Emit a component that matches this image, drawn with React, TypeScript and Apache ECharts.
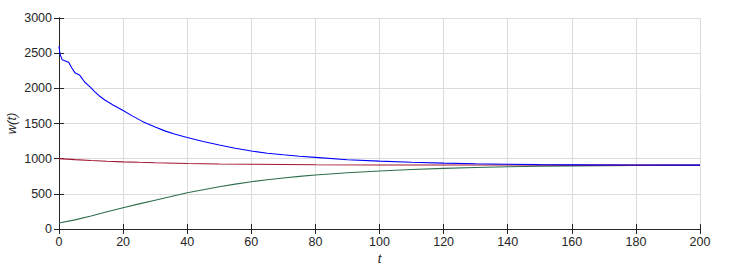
import React, { useEffect, useRef } from "react";
import * as echarts from "echarts";

const blueT = [0, 0.3, 1, 2, 3, 4, 5, 6.5, 8, 9.6, 11.2, 12.5, 14.3, 17, 20, 23, 26, 30, 33, 36, 40, 45, 50, 55, 60, 65, 70, 75, 80, 90, 100, 110, 120, 130, 140, 150, 160, 180, 200];
const blueW = [2600, 2490, 2405, 2390, 2370, 2290, 2220, 2185, 2090, 2025, 1950, 1895, 1835, 1760, 1686, 1605, 1530, 1450, 1395, 1350, 1300, 1245, 1195, 1148, 1108, 1078, 1055, 1034, 1018, 985, 965, 948, 937, 928, 920, 915, 912, 909, 908];

const redT = [0, 5, 10, 15, 20, 25, 30, 40, 50, 60, 70, 80, 100, 120, 140, 160, 200];
const redW = [1000, 987, 975, 964, 955, 948, 942, 932, 925, 920, 917, 914, 911, 910, 909, 908, 908];

const greenT = [0, 5, 10, 15, 20, 25, 30, 35, 40, 45, 50, 55, 60, 65, 70, 75, 80, 90, 100, 110, 120, 130, 140, 150, 160, 180, 200];
const greenW = [85, 130, 185, 244, 303, 357, 410, 463, 515, 558, 600, 638, 672, 700, 725, 748, 768, 800, 825, 845, 862, 875, 885, 892, 897, 903, 906];

const xTicks = [0, 20, 40, 60, 80, 100, 120, 140, 160, 180, 200];
const yTicks = [0, 500, 1000, 1500, 2000, 2500, 3000];

const pairs = (t: number[], w: number[]) => t.map((v, i) => [v, w[i]]);

export default function App() {
  const ref = useRef<HTMLDivElement>(null);
  useEffect(() => {
    const chart = echarts.init(ref.current!, null, { renderer: "svg" });
    const font = "Liberation Sans, Arial, sans-serif";
    const axisCol = "#262626";
    chart.setOption({
      animation: false,
      grid: { left: 59, right: 35, top: 18, bottom: 42, containLabel: false, outerBoundsMode: "none" },
      xAxis: [
        {
          type: "value",
          min: xTicks[0],
          max: xTicks[xTicks.length - 1],
          interval: 20,
          name: "t",
          nameLocation: "middle",
          nameGap: 23,
          nameMoveOverlap: false,
          nameTextStyle: { fontStyle: "italic", fontSize: 13, color: axisCol, fontFamily: font },
          axisLine: { show: true, lineStyle: { color: axisCol, width: 1 } },
          axisTick: { show: true, inside: true, length: 5, lineStyle: { color: axisCol } },
          axisLabel: { color: axisCol, fontSize: 12.5, fontFamily: font, margin: 6, formatter: (v: number) => String(v) },
          splitLine: { show: true, lineStyle: { color: "#dcdcdc", width: 1 } },
        },
        {
          type: "value",
          position: "top",
          min: xTicks[0],
          max: xTicks[xTicks.length - 1],
          interval: 20,
          axisLine: { show: true, lineStyle: { color: axisCol, width: 1 } },
          axisTick: { show: true, inside: true, length: 5, lineStyle: { color: axisCol } },
          axisLabel: { show: false },
          splitLine: { show: false },
        },
      ],
      yAxis: [
        {
          type: "value",
          min: yTicks[0],
          max: yTicks[yTicks.length - 1],
          interval: 500,
          name: "w(t)",
          nameLocation: "middle",
          nameGap: 41,
          nameMoveOverlap: false,
          nameTextStyle: { fontStyle: "italic", fontSize: 13, color: axisCol, fontFamily: font },
          axisLine: { show: true, lineStyle: { color: axisCol, width: 1 } },
          axisTick: { show: true, inside: true, length: 5, lineStyle: { color: axisCol } },
          axisLabel: { color: axisCol, fontSize: 12.5, fontFamily: font, margin: 7, formatter: (v: number) => String(v) },
          splitLine: { show: true, lineStyle: { color: "#dcdcdc", width: 1 } },
        },
        {
          type: "value",
          position: "right",
          min: yTicks[0],
          max: yTicks[yTicks.length - 1],
          interval: 500,
          axisLine: { show: true, lineStyle: { color: axisCol, width: 1 } },
          axisTick: { show: true, inside: true, length: 5, lineStyle: { color: axisCol } },
          axisLabel: { show: false },
          splitLine: { show: false },
        },
      ],
      series: [
        {
          type: "line",
          data: pairs(greenT, greenW),
          showSymbol: false,
          smooth: false,
          lineStyle: { color: "#2e6e4c", width: 1.1 },
        },
        {
          type: "line",
          data: pairs(redT, redW),
          showSymbol: false,
          smooth: false,
          lineStyle: { color: "#a2142f", width: 1.1 },
        },
        {
          type: "line",
          data: pairs(blueT, blueW),
          showSymbol: false,
          smooth: false,
          lineStyle: { color: "#0000ff", width: 1.1 },
        },
      ],
    });
    return () => chart.dispose();
  }, []);
  return <div ref={ref} style={{ width: 735, height: 271, position: "absolute", left: 0, top: 0, background: "#fff" }} />;
}
